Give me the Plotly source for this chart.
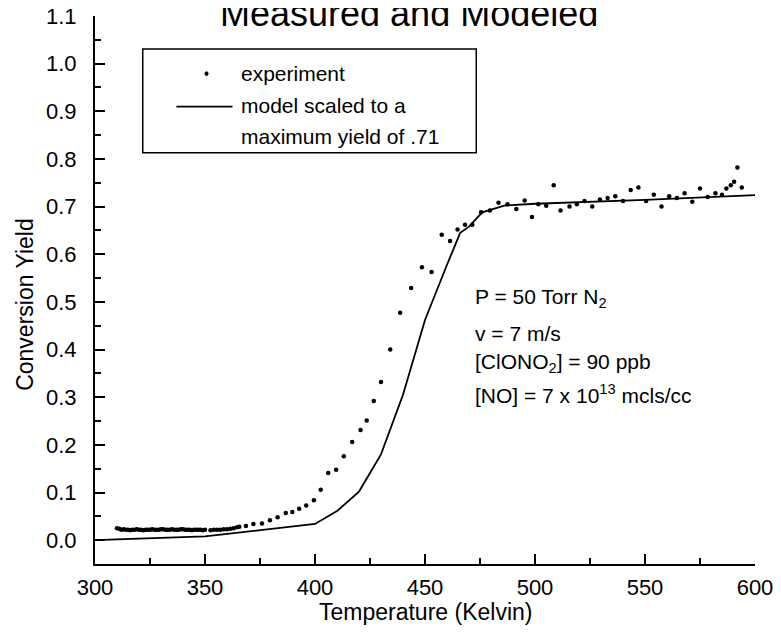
import plotly.graph_objects as go

# experiment data
temp_exp = [310, 311, 312, 313, 314, 315, 316, 317, 318, 319, 320, 321, 322, 323,
            324, 325, 326, 327, 328, 329, 330, 331, 332, 333, 334, 335, 336, 337,
            338, 339, 340, 341, 342, 343, 344, 345, 346, 347, 348, 349, 350,
            352.5, 354, 355.5, 357, 358.5, 360, 361.5, 363, 364.5,
            365.6, 368.6, 372, 375.9, 379.5, 383, 386.7, 389.7, 392.8, 396,
            399.5, 402.6, 406, 409.6, 413.1, 416.9, 420.7, 423.5, 426.7, 430,
            434.2, 438.7, 443.7, 448.6, 453, 457.6, 461.4, 464.8, 468.2, 471.5,
            475.5, 479.5, 483.4, 487.5, 491.5, 495.3, 498.6, 501.5, 505.1, 508.5,
            511.6, 515.7, 519, 522.5, 526, 529.5, 533, 536.5, 540, 543.5,
            547, 550.5, 554, 557.5, 561, 564.5, 568, 571.5, 575, 578.5,
            582, 585, 587, 589, 590.5, 592, 594]
yield_exp = [0.025, 0.024, 0.022, 0.023, 0.022, 0.022, 0.021, 0.022, 0.022, 0.023,
             0.022, 0.022, 0.021, 0.022, 0.022, 0.022, 0.023, 0.022, 0.022, 0.022,
             0.023, 0.023, 0.022, 0.022, 0.022, 0.023, 0.022, 0.022, 0.022, 0.023,
             0.023, 0.022, 0.022, 0.022, 0.021, 0.022, 0.022, 0.022, 0.022, 0.021,
             0.022,
             0.021, 0.022, 0.022, 0.022, 0.023, 0.023, 0.024, 0.025, 0.027,
             0.028, 0.030, 0.034, 0.035, 0.042, 0.048, 0.057, 0.059, 0.066, 0.073,
             0.084, 0.106, 0.141, 0.148, 0.176, 0.206, 0.231, 0.251, 0.292, 0.332,
             0.400, 0.477, 0.529, 0.573, 0.563, 0.641, 0.628, 0.652, 0.662, 0.662,
             0.688, 0.692, 0.708, 0.705, 0.695, 0.713, 0.678, 0.705, 0.702, 0.745,
             0.692, 0.700, 0.705, 0.712, 0.700, 0.715, 0.718, 0.722, 0.712, 0.735,
             0.740, 0.712, 0.725, 0.700, 0.722, 0.718, 0.728, 0.710, 0.738, 0.720,
             0.728, 0.725, 0.738, 0.745, 0.752, 0.782, 0.740]

# model curve, scaled to max yield .71
temp_model = [300, 350, 400, 410, 420, 430, 440, 450, 460, 466, 470, 476, 486, 500, 550, 600]
yield_model = [0.000, 0.008, 0.034, 0.061, 0.102, 0.180, 0.305, 0.462, 0.578, 0.645,
               0.658, 0.688, 0.702, 0.706, 0.714, 0.724]

font = "Liberation Sans, Arial, sans-serif"

fig = go.Figure()
fig.add_trace(go.Scatter(x=temp_model, y=yield_model, mode="lines",
                         line=dict(color="black", width=1.8), name="model"))
fig.add_trace(go.Scatter(x=temp_exp, y=yield_exp, mode="markers",
                         marker=dict(color="black", size=4.5), name="experiment",
                         cliponaxis=False))

axis_style = dict(showline=True, linecolor="black", linewidth=2, showgrid=False,
                  zeroline=False, automargin=False, ticklabeloverflow="allow",
                  ticks="inside", ticklen=10, tickwidth=1.5, tickcolor="black",
                  tickfont=dict(family=font, size=22, color="black"),
                  minor=dict(ticks="inside", ticklen=6, tickwidth=1.5, tickcolor="black"))

fig.update_xaxes(range=[300, 600], tick0=300, dtick=50, minor_dtick=25,
                 ticklabelstandoff=3, **axis_style)
fig.update_yaxes(range=[-0.05, 1.1], tick0=0, dtick=0.1, tickformat=".1f",
                 minor_dtick=0.05, ticklabelstandoff=12, **axis_style)

# legend drawn by hand to copy the boxed layout
fig.add_shape(type="rect", x0=321.7, x1=473.3, y0=0.813, y1=1.031,
              line=dict(color="black", width=1.5))
fig.add_shape(type="line", x0=337, x1=362.5, y0=0.910, y1=0.910,
              line=dict(color="black", width=1.8))
fig.add_shape(type="circle", x0=350.0, x1=351.4, y0=0.975, y1=0.983,
              fillcolor="black", line=dict(color="black", width=1))

notes = [
    (365.6, 0.979, "experiment", 21),
    (365.6, 0.913, "model scaled to a", 21),
    (365.6, 0.848, "maximum yield of .71", 21),
    (472, 0.509, "P = 50 Torr N<sub>2</sub>", 21),
    (472, 0.434, "v = 7 m/s", 21),
    (472, 0.372, "[ClONO<sub>2</sub>] = 90 ppb", 21),
    (472, 0.306, "[NO] = 7 x 10<sup>13</sup> mcls/cc", 21),
]
for x, y, txt, sz in notes:
    fig.add_annotation(x=x, y=y, text=txt, showarrow=False, xanchor="left",
                       yanchor="middle", font=dict(family=font, size=sz, color="black"))

fig.add_annotation(xref="paper", yref="paper", x=0.5, y=-0.088,
                   text="Temperature (Kelvin)", showarrow=False,
                   xanchor="center", yanchor="middle",
                   font=dict(family=font, size=23, color="black"))
fig.add_annotation(xref="paper", yref="paper", x=-0.106, y=0.473,
                   text="Conversion Yield", textangle=-90, showarrow=False,
                   xanchor="center", yanchor="middle",
                   font=dict(family=font, size=23, color="black"))
fig.add_annotation(xref="paper", yref="paper", x=0.475, y=1.004,
                   text="Measured and Modeled", showarrow=False,
                   xanchor="center", yanchor="middle",
                   font=dict(family=font, size=36, color="black"))

# page body adds an 8px offset, so the figure is sized to fit the window
fig.update_layout(width=765, height=618, showlegend=False,
                  margin=dict(l=87, r=18, t=8, b=62),
                  plot_bgcolor="white", paper_bgcolor="white")

fig.write_html("out.html")
